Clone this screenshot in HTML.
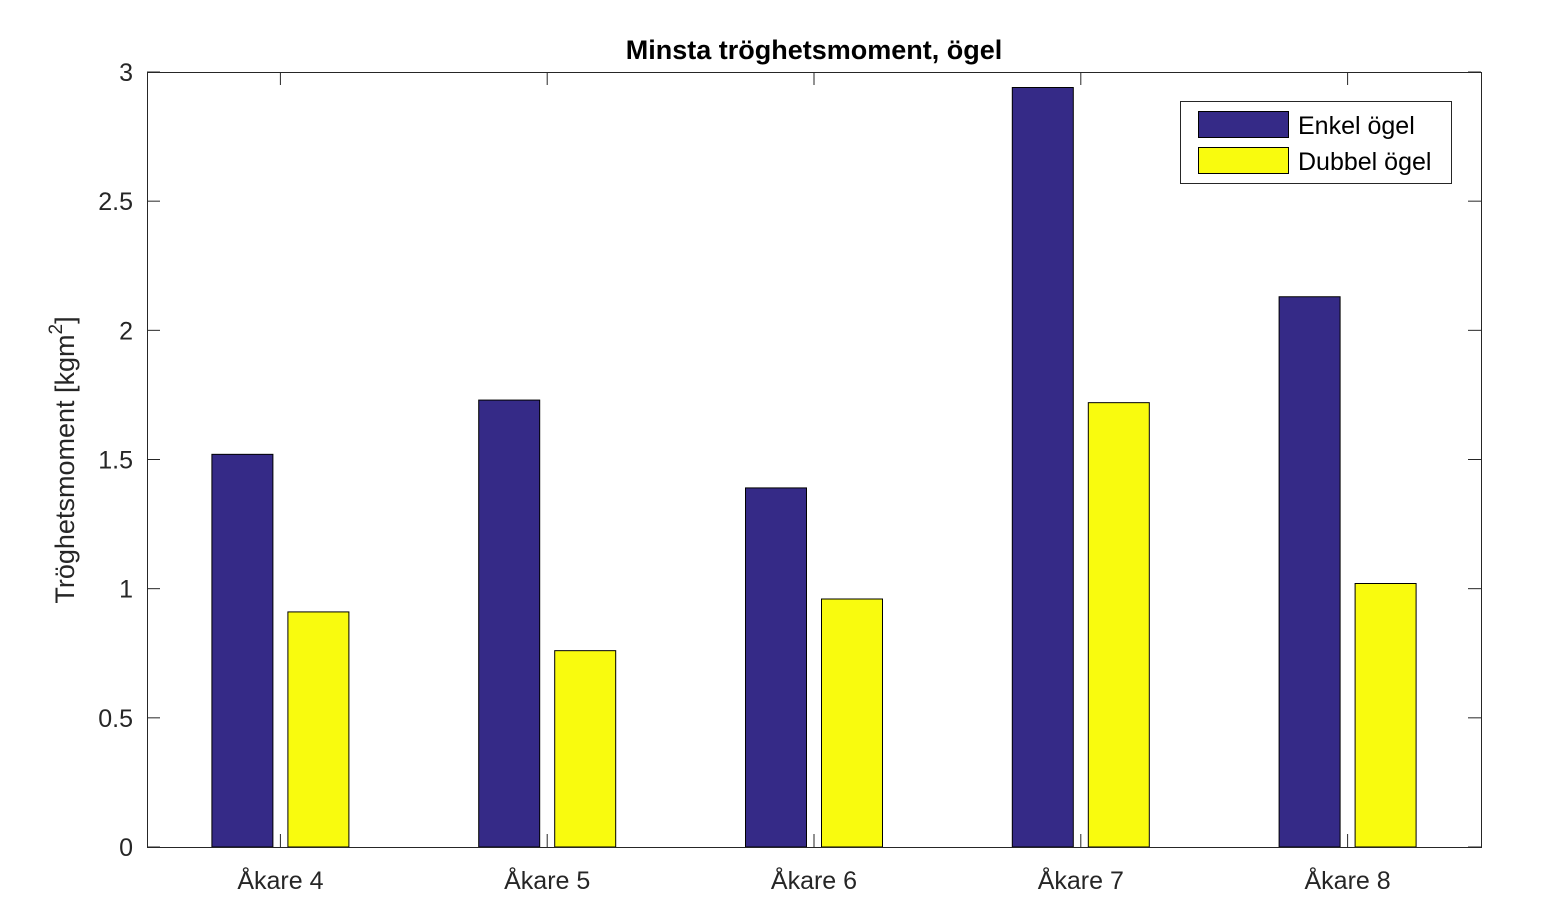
<!DOCTYPE html>
<html><head><meta charset="utf-8"><style>
body{margin:0;background:#fff;}
svg text{font-family:"Liberation Sans",Arial,sans-serif;fill:#262626;}
</style></head><body>
<svg id="chart" width="1544" height="896" xmlns="http://www.w3.org/2000/svg">
<rect width="1544" height="896" fill="#fff"/>
<g id="plot"></g>
<text x="814" y="59" text-anchor="middle" font-size="27" font-weight="bold" style="fill:#000">Minsta tröghetsmoment, ögel</text>
<text transform="translate(74,460) rotate(-90)" text-anchor="middle" font-size="27">Tröghetsmoment [kgm<tspan dy="-12" font-size="19">2</tspan><tspan dy="12">]</tspan></text>
<g>
<rect x="1180.5" y="101.5" width="271" height="82" fill="#fff" stroke="#262626" stroke-width="1"/>
<rect x="1198.5" y="111.5" width="90" height="26" fill="#352a87" stroke="#000"/>
<text x="1298" y="134" font-size="25" style="fill:#000">Enkel ögel</text>
<rect x="1198.5" y="147.5" width="90" height="26" fill="#f9fb0e" stroke="#000"/>
<text x="1298" y="170" font-size="25" style="fill:#000">Dubbel ögel</text>
</g>
</svg>
<script>
const categories=["Åkare 4","Åkare 5","Åkare 6","Åkare 7","Åkare 8"];
const enkel=[1.52,1.73,1.39,2.94,2.13];
const dubbel=[0.91,0.76,0.96,1.72,1.02];
const yTicks=[0,0.5,1,1.5,2,2.5,3];
const yTickLabels=["0","0.5","1","1.5","2","2.5","3"];
const L=147,R=1481,T=72,B=847,yMax=3;
const NS="http://www.w3.org/2000/svg";
const g=document.getElementById('plot');
const groupW=(R-L)/categories.length;
function x(i){return L+groupW*(i+0.5);}
function y(v){return B-(v/yMax)*(B-T);}
function mk(t,a){const e=document.createElementNS(NS,t);for(const k in a)e.setAttribute(k,a[k]);g.appendChild(e);return e;}
const bw=61,off=38;
categories.forEach((c,i)=>{
 let r=mk('rect',{x:x(i)-off-bw/2,y:y(enkel[i]),width:bw,height:B-y(enkel[i]),fill:'#352a87',stroke:'#000','stroke-width':1});
 
 
 let r2=mk('rect',{x:x(i)+off-bw/2,y:y(dubbel[i]),width:bw,height:B-y(dubbel[i]),fill:'#f9fb0e',stroke:'#000','stroke-width':1});
 
 
 mk('line',{x1:x(i),x2:x(i),y1:B,y2:B-13,stroke:'#262626'});
 mk('line',{x1:x(i),x2:x(i),y1:T,y2:T+13,stroke:'#262626'});
 let t=mk('text',{x:x(i),y:889,'text-anchor':'middle','font-size':25});
 t.textContent=c;
 
 
});
yTicks.forEach((v,i)=>{
 mk('line',{x1:L,x2:L+13,y1:y(v),y2:y(v),stroke:'#262626'});
 mk('line',{x1:R,x2:R-13,y1:y(v),y2:y(v),stroke:'#262626'});
 let t=mk('text',{x:133,y:y(v)+9,'text-anchor':'end','font-size':25});
 t.textContent=yTickLabels[i];
 
 
});
let box=mk('rect',{x:L+0.5,y:T+0.5,width:R-L,height:B-T,fill:'none',stroke:'#262626','stroke-width':1});


</script>
</body></html>
